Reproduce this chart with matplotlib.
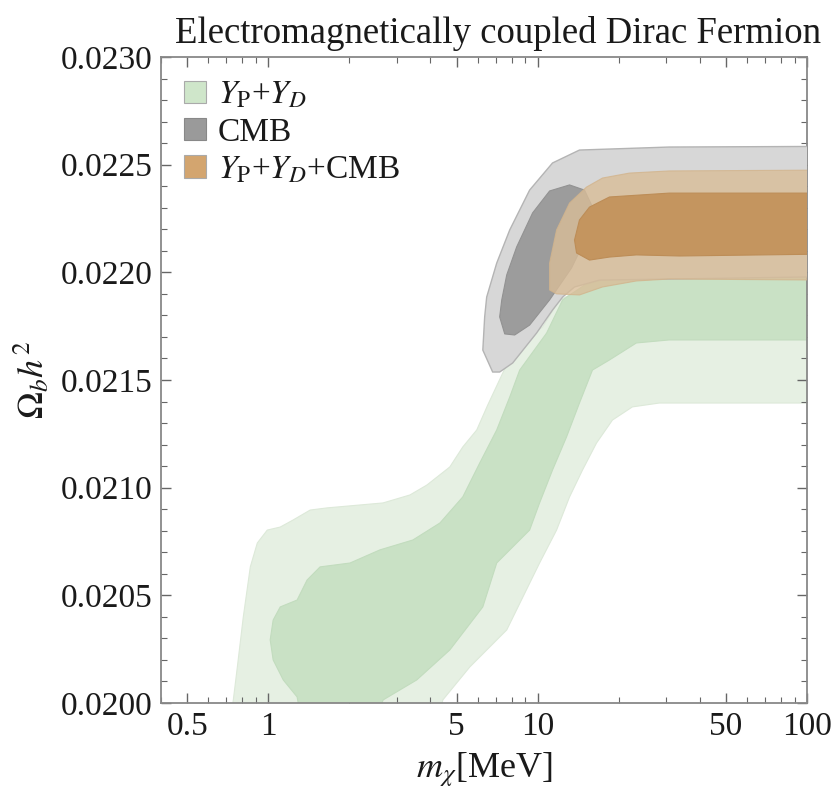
import matplotlib
matplotlib.use("Agg")
import matplotlib.pyplot as plt
from matplotlib.patches import Polygon, Patch
from matplotlib.ticker import FixedLocator, NullFormatter, MultipleLocator, FormatStrFormatter
import numpy as np

plt.rcParams['font.family'] = 'Liberation Serif'
plt.rcParams['mathtext.fontset'] = 'stix'

# contour outlines: mass [MeV], Omega_b h^2
bbn_2s_m = [0.729, 0.742, 0.768, 0.808, 0.858, 0.911, 0.992, 1.108, 1.238, 1.431, 1.654,
            2.667, 3.357, 3.880, 4.721, 5.275, 5.944, 6.53, 7.42, 8.36, 10.43, 12.06, 15.58,
            20.1, 120, 120, 28.3, 22.48, 18.96, 16.54, 14.68, 13.14, 11.76, 10.17, 7.68,
            5.60, 4.447, 4.34]
bbn_2s_om = [0.01995, 0.020014, 0.020167, 0.020399, 0.020632, 0.020743, 0.020803, 0.020817,
             0.020850, 0.020896, 0.020906, 0.020929, 0.020966, 0.021012, 0.021096, 0.021189,
             0.021268, 0.021384, 0.021532, 0.021663, 0.021746, 0.021872, 0.021941, 0.021988,
             0.021988, 0.021393, 0.021393, 0.021375, 0.021314, 0.021207, 0.021082, 0.020957,
             0.020803, 0.020650, 0.020339, 0.020167, 0.020014, 0.01995]

bbn_1s_m = [1.314, 1.280, 1.137, 1.043, 1.017, 1.043, 1.108, 1.280, 1.394, 1.558, 2.012,
            2.598, 3.444, 4.34, 5.275, 6.10, 7.05, 7.88, 8.58, 10.80, 12.38, 14.93, 20.1,
            120, 120, 30.8, 23.26, 18.48, 15.98, 14.30, 12.80, 11.36, 10.17, 9.34, 7.05,
            6.26, 4.72, 3.56, 2.67, 2.555]
bbn_1s_om = [0.01995, 0.020028, 0.020107, 0.020200, 0.020293, 0.020385, 0.020446, 0.020478,
             0.020571, 0.020632, 0.020650, 0.020711, 0.020757, 0.020836, 0.020957, 0.021115,
             0.021268, 0.021421, 0.021546, 0.021718, 0.021872, 0.021941, 0.021988, 0.021988,
             0.021686, 0.021686, 0.021672, 0.021593, 0.021546, 0.021393, 0.021235, 0.021082,
             0.020929, 0.020803, 0.020650, 0.020446, 0.020246, 0.020107, 0.020014, 0.01995]

cmb_2s_m = [6.81, 6.26, 6.36, 6.47, 7.05, 7.88, 9.34, 11.36, 14.30, 30.8, 120, 120, 16.97,
            13.71, 12.38, 11.36, 9.91, 8.08, 7.23]
cmb_2s_om = [0.021537, 0.021639, 0.021793, 0.021885, 0.022043, 0.022197, 0.022382, 0.022508,
             0.022568, 0.022582, 0.022585, 0.02198, 0.021964, 0.021932, 0.021885, 0.021825,
             0.021718, 0.021579, 0.021537]

cmb_1s_m = [7.55, 7.23, 7.36, 7.68, 8.36, 9.58, 11.08, 13.14, 14.93, 15.85, 15.32, 13.36,
            11.08, 9.34, 8.22]
cmb_1s_om = [0.021714, 0.021793, 0.021872, 0.021988, 0.022118, 0.022276, 0.022378, 0.022406,
             0.022382, 0.022313, 0.022173, 0.022020, 0.021872, 0.021755, 0.021709]

comb_2s_m = [11.08, 11.08, 11.76, 13.14, 15.19, 17.41, 21.91, 30.8, 120, 120, 30.8, 23.26,
             17.41, 14.30, 11.76]
comb_2s_om = [0.021918, 0.022043, 0.022197, 0.022322, 0.022396, 0.022438, 0.022461, 0.022471,
              0.022475, 0.021964, 0.021969, 0.021960, 0.021932, 0.021895, 0.021900]

comb_1s_m = [13.95, 13.71, 14.30, 15.58, 18.48, 30.8, 120, 120, 33.6, 23.26, 18.48, 15.58]
comb_1s_om = [0.02209, 0.02215, 0.022243, 0.022303, 0.02235, 0.022368, 0.022368, 0.022085,
              0.022076, 0.022081, 0.022071, 0.022057]

legend_labels = [r'$Y_\mathrm{P}$+$Y_D$', 'CMB', r'$Y_\mathrm{P}$+$Y_D$+CMB']

fig = plt.figure(figsize=(8.33, 7.91), dpi=100)
ax = fig.add_axes([0.1933, 0.1113, 0.7755, 0.8166])

# regions, drawn back to front
ax.add_patch(Polygon(np.column_stack([bbn_2s_m, bbn_2s_om]), closed=True,
                     facecolor='#e6f0e3', edgecolor='#dde9d9', lw=0.8, joinstyle='round', zorder=1))
ax.add_patch(Polygon(np.column_stack([bbn_1s_m, bbn_1s_om]), closed=True,
                     facecolor='#c9e1c5', edgecolor='#c2dcbe', lw=0.8, joinstyle='round', zorder=2))
ax.add_patch(Polygon(np.column_stack([cmb_2s_m, cmb_2s_om]), closed=True,
                     facecolor='#d7d7d7', edgecolor='#b4b4b4', lw=1.0, joinstyle='round', zorder=3))
ax.add_patch(Polygon(np.column_stack([cmb_1s_m, cmb_1s_om]), closed=True,
                     facecolor='#9c9c9c', edgecolor='#929292', lw=0.8, joinstyle='round', zorder=4))
ax.add_patch(Polygon(np.column_stack([comb_2s_m, comb_2s_om]), closed=True,
                     facecolor='#d9bd98', edgecolor='#d2b48c', lw=0.8, alpha=0.8,
                     joinstyle='round', zorder=5))
ax.add_patch(Polygon(np.column_stack([comb_1s_m, comb_1s_om]), closed=True,
                     facecolor='#c4955f', edgecolor='#bd8d57', lw=0.8, joinstyle='round', zorder=6))

ax.set_xscale('log')
ax.set_xlim(0.4, 100)
ax.set_ylim(0.0200, 0.0230)

ax.xaxis.set_major_locator(FixedLocator([0.5, 1, 5, 10, 50, 100]))
ax.set_xticklabels(['0.5', '1', '5', '10', '50', '100'])
minors = [m * d for d in [0.1, 1, 10] for m in range(2, 10)]
ax.xaxis.set_minor_locator(FixedLocator(minors))
ax.xaxis.set_minor_formatter(NullFormatter())
ax.yaxis.set_major_locator(MultipleLocator(0.0005))
ax.yaxis.set_minor_locator(MultipleLocator(0.0001))
ax.yaxis.set_major_formatter(FormatStrFormatter('%.4f'))

ax.tick_params(which='both', direction='in', top=True, right=True, color='#666666',
               labelsize=24, labelcolor='#1a1a1a', pad=6)
ax.tick_params(which='major', length=7, width=1.0)
ax.tick_params(which='minor', length=4, width=0.8)
for s in ax.spines.values():
    s.set_color('#888888')
    s.set_linewidth(1.3)

ax.set_title('Electromagnetically coupled Dirac Fermion', fontsize=26.5, color='#1a1a1a',
             pad=10, x=0.522)
ax.set_xlabel(r'$m_\chi$[MeV]', fontsize=26, color='#1a1a1a', labelpad=6)
ax.set_ylabel(r'$\Omega_b h^2$', fontsize=26, color='#1a1a1a', labelpad=6)

handles = [Patch(facecolor='#cfe6ca', edgecolor='#aaaaaa', lw=0.8),
           Patch(facecolor='#9a9a9a', edgecolor='#888888', lw=0.8),
           Patch(facecolor='#d3a56f', edgecolor='#aaaaaa', lw=0.8)]
ax.legend(handles, legend_labels, loc='upper left', frameon=False, fontsize=24,
          handlelength=0.65, handleheight=0.65, handletextpad=0.35, labelspacing=0.2,
          borderaxespad=0.35, borderpad=0.35, labelcolor='#1a1a1a')

fig.savefig('out.png', dpi=100)
